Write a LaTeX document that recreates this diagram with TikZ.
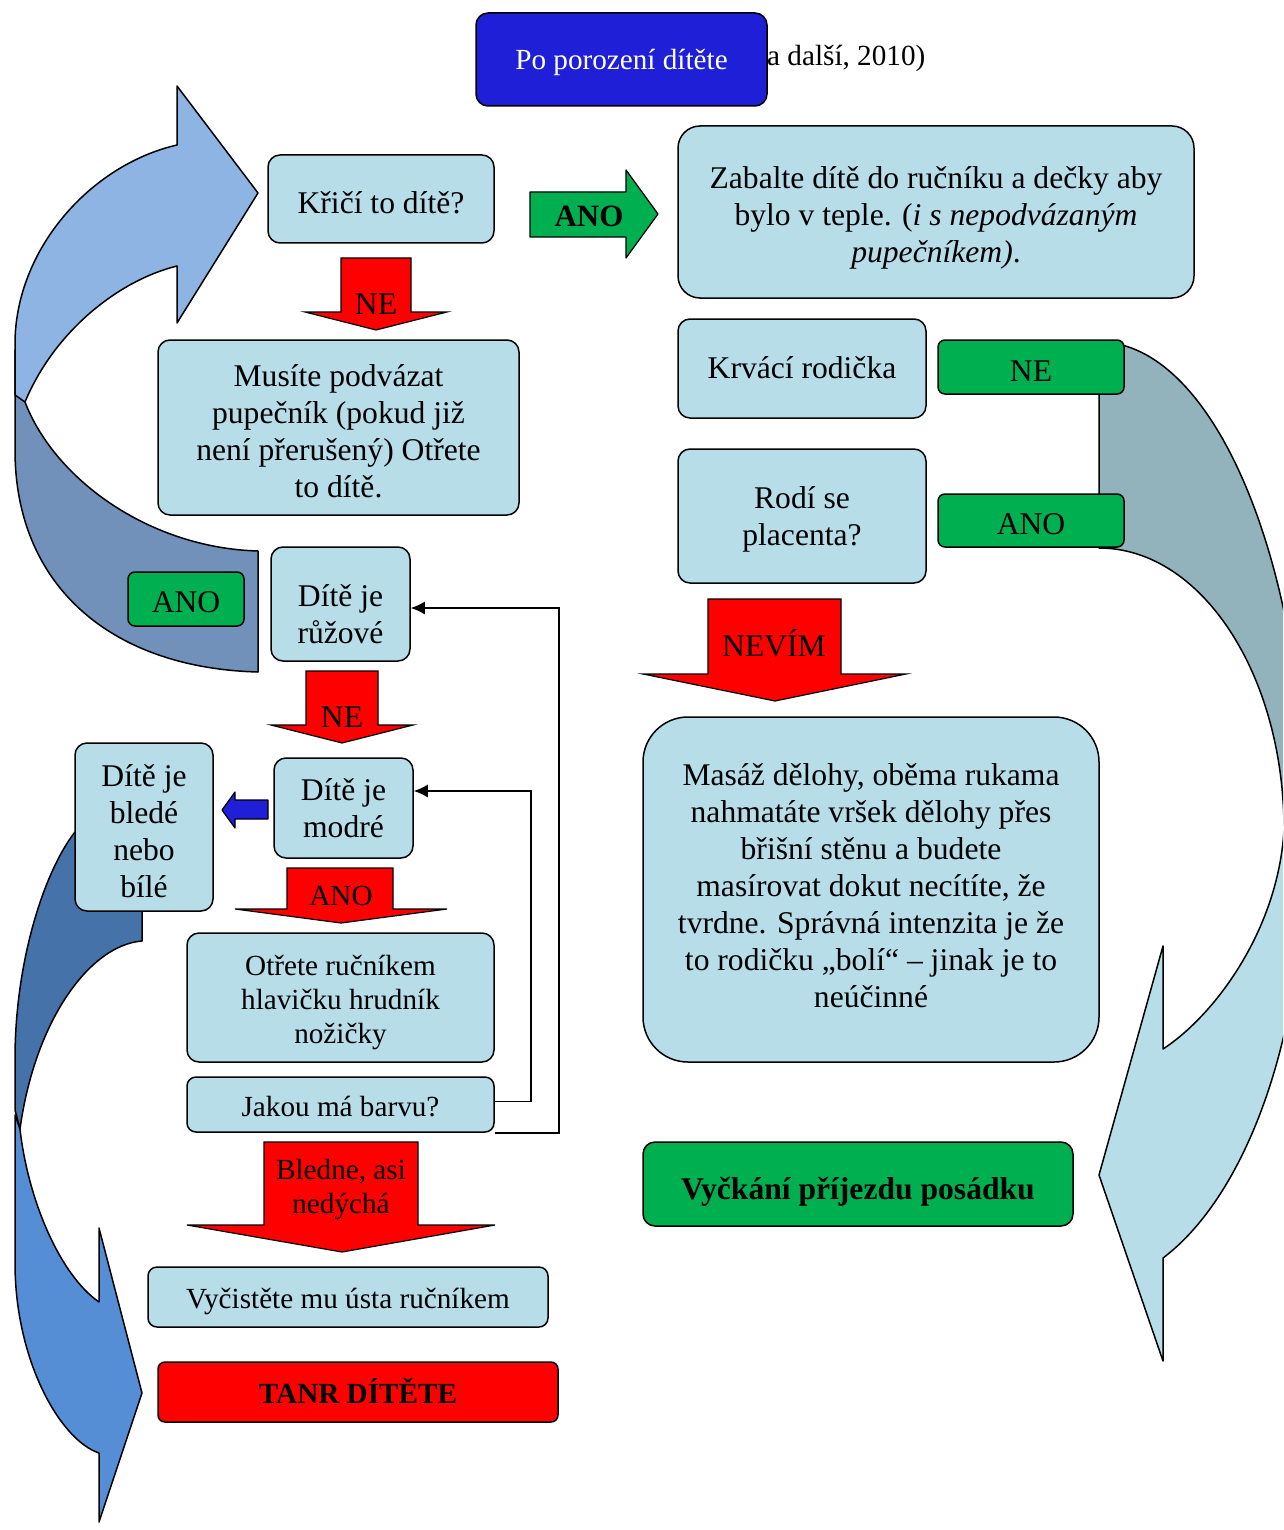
\documentclass[tikz,border=0pt]{standalone}
\usepackage{fontspec}
\setmainfont{Liberation Serif}
\usetikzlibrary{arrows.meta}
\definecolor{boxblue}{HTML}{B7DDE8}
\definecolor{titleblue}{HTML}{1F1FD8}
\definecolor{okgreen}{HTML}{00B050}
\definecolor{alarmred}{HTML}{FF0000}
\definecolor{lightA}{HTML}{8EB4E3}
\definecolor{darkA}{HTML}{7191BA}
\definecolor{lightB}{HTML}{558ED5}
\definecolor{darkB}{HTML}{4672AA}
\definecolor{greyR}{HTML}{93B3BC}
\definecolor{lightR}{HTML}{B7DEE8}
% text lines of a box, lowered by #1 inside it
\newcommand{\boxtext}[2]{\raisebox{-#1}[\height][\depth]{\begin{tabular}{@{}c@{}}#2\end{tabular}}}

\begin{document}
\begin{tikzpicture}[x=1pt,y=-1pt,
  big/.style={font=\fontsize{31.6}{37}\selectfont},
  small/.style={font=\fontsize{29.2}{34}\selectfont},
  box/.style={draw=black,line width=1.5pt,rounded corners=12pt,fill=boxblue,align=center,big},
  greenbox/.style={box,fill=okgreen,rounded corners=7pt},
  redbox/.style={box,fill=alarmred,rounded corners=7pt},
  blockred/.style={draw=black,line width=1.2pt,fill=alarmred},
  arrowline/.style={draw=black,line width=1.5pt,line join=round},
  conn/.style={draw=black,line width=1.5pt,-{Latex[length=14pt,width=13pt]}},
  lbl/.style={align=center,inner sep=0pt}]
\useasboundingbox (0,0) rectangle (1283,1530);

% big curved arrows behind the boxes
\begin{scope}
\clip (0,0) rectangle (1283,1530);
\draw[arrowline,fill=darkA] (15,350) -- (15,450) .. controls (15,585) and (110,668) .. (258,672) -- (258,551) .. controls (150,548) and (55,480) .. (25,402) -- cycle;
\draw[arrowline,fill=lightA] (258,193) -- (177,86) -- (177,145) .. controls (90,165) and (15,250) .. (15,344) -- (15,395) -- (25,402) .. controls (55,330) and (120,280) .. (177,266) -- (177,323) -- cycle;
\draw[arrowline,fill=darkB] (142,830) -- (142,941) .. controls (90,945) and (35,1020) .. (20,1129) -- (15,1110) -- (15,1059) .. controls (15,960) and (45,870) .. (75,832) -- cycle;
\draw[arrowline,fill=lightB] (15,1115) -- (15,1263) .. controls (15,1360) and (60,1440) .. (99,1453) -- (99,1522) -- (142,1393) -- (99,1228) -- (99,1302) .. controls (60,1275) and (28,1200) .. (20,1129) -- cycle;
\draw[arrowline,fill=greyR] (1099,342) .. controls (1213,342) and (1306,561) .. (1306,830) -- (1284,830) .. controls (1284,674) and (1201,548) .. (1099,548) -- cycle;
\draw[arrowline,fill=lightR] (1284,830) -- (1306,830) .. controls (1306,1050) and (1240,1200) .. (1163,1258) -- (1163,1361) -- (1099,1175) -- (1163,946) -- (1163,1049) .. controls (1215,1015) and (1278,930) .. (1284,830) -- cycle;
\end{scope}

% title
\node[small,anchor=west,inner sep=0pt] (zdroj) at (767,58) {a další, 2010)};
\node[box,small,fill=titleblue,text=white,minimum width=291pt,minimum height=93pt] (title) at (621.5,59.5) {\boxtext{3.7pt}{Po porození dítěte}};

% left column
\node[box,minimum width=226pt,minimum height=88pt] (kric) at (381,199) {\boxtext{7.4pt}{Křičí to dítě?}};
\draw[blockred] (341,258) -- (411,258) -- (411,312) -- (447,312) -- (376,330) -- (305,312) -- (341,312) -- cycle;
\node[lbl,big] (ne1) at (376,304) {NE};
\node[box,minimum width=361pt,minimum height=175pt] (musite) at (338.5,427.5) {\boxtext{7.4pt}{Musíte podvázat\\pupečník (pokud již\\není přerušený) Otřete\\to dítě.}};
\node[greenbox,minimum width=116pt,minimum height=54pt] (anol) at (186,599) {\boxtext{6.4pt}{ANO}};
\node[box,minimum width=139pt,minimum height=114pt] (ruzove) at (340.5,604) {\boxtext{13.9pt}{Dítě je\\růžové}};
\draw[blockred] (306,671) -- (378,671) -- (378,725) -- (413,725) -- (342,743) -- (271,725) -- (306,725) -- cycle;
\node[lbl,big] (ne2) at (342,717) {NE};
\node[box,minimum width=138pt,minimum height=168pt] (bile) at (144,827) {\boxtext{7.9pt}{Dítě je\\bledé\\nebo\\bílé}};
\node[box,minimum width=139pt,minimum height=100pt] (modre) at (343.5,808) {\boxtext{3.9pt}{Dítě je\\modré}};
\draw[arrowline,line width=1.2pt,fill=titleblue] (268,800) -- (235,800) -- (235,792) -- (222,810) -- (235,828) -- (235,819) -- (268,819) -- cycle;
\draw[blockred] (287,868) -- (393,868) -- (393,909) -- (447,909) -- (341,923) -- (235,909) -- (287,909) -- cycle;
\node[lbl,small] (ano3) at (341,896) {ANO};
\node[box,small,minimum width=307pt,minimum height=129pt] (otrete) at (340.5,997.5) {\boxtext{4.7pt}{Otřete ručníkem\\hlavičku hrudník\\nožičky}};
\node[box,small,rounded corners=9pt,minimum width=307pt,minimum height=55pt] (jakou) at (340.5,1104.5) {\boxtext{4.7pt}{Jakou má barvu?}};
\draw[conn] ([yshift=3pt]jakou.east) -- ++(36,0) |- ([yshift=17pt]modre.east);
\draw[conn] (jakou.south east) -- ++(64,0) |- ([yshift=-4pt]ruzove.east);
\draw[blockred] (264,1142) -- (418,1142) -- (418,1225) -- (495,1225) -- (342,1252) -- (187,1225) -- (264,1225) -- cycle;
\node[lbl,small] (bledne) at (341,1190) {Bledne, asi\\nedýchá};
\node[box,small,rounded corners=9pt,minimum width=400pt,minimum height=60pt] (vycistete) at (348,1297) {\boxtext{4.2pt}{Vyčistěte mu ústa ručníkem}};
\node[redbox,small,font=\fontsize{29.2}{34}\selectfont\bfseries,minimum width=400pt,minimum height=60pt] (tanr) at (358,1392) {\boxtext{4.2pt}{TANR DÍTĚTE}};

% right column
\draw[arrowline,line width=1.2pt,fill=okgreen] (530,192) -- (626,192) -- (626,170) -- (658,214) -- (626,258) -- (626,237) -- (530,237) -- cycle;
\node[lbl,font=\fontsize{31}{37}\selectfont\bfseries] (ano1) at (589,216) {ANO};
\node[box,rounded corners=22pt,minimum width=516pt,minimum height=172pt] (zabalte) at (936,212) {\boxtext{6.4pt}{Zabalte dítě do ručníku a dečky aby\\bylo v teple. (\textit{i s nepodvázaným}\\\textit{pupečníkem)}.}};
\node[box,minimum width=248pt,minimum height=99pt] (krvaci) at (802,368.5) {\boxtext{2.9pt}{Krvácí rodička}};
\node[greenbox,minimum width=186pt,minimum height=54pt] (ner) at (1031,367) {\boxtext{7.4pt}{NE}};
\node[box,minimum width=248pt,minimum height=134pt] (rodi) at (802,516) {\boxtext{3.9pt}{Rodí se\\placenta?}};
\node[greenbox,minimum width=186pt,minimum height=53pt] (anor) at (1031,520.5) {\boxtext{6.9pt}{ANO}};
\draw[blockred] (708,599) -- (841,599) -- (841,674) -- (906,674) -- (775,701) -- (643,674) -- (708,674) -- cycle;
\node[lbl,big] (nevim) at (774,643) {NEVÍM};
\node[box,rounded corners=45pt,minimum width=456pt,minimum height=345pt] (masaz) at (871,889.5) {\boxtext{0pt}{Masáž dělohy, oběma rukama\\nahmatáte vršek dělohy přes\\břišní stěnu a budete\\masírovat dokut necítíte, že\\tvrdne. Správná intenzita je že\\to rodičku „bolí“ – jinak je to\\neúčinné}};
\node[greenbox,rounded corners=12pt,font=\fontsize{31.6}{37}\selectfont\bfseries,minimum width=430pt,minimum height=84pt] (vyckani) at (858,1184) {\boxtext{8.4pt}{Vyčkání příjezdu posádku}};
\end{tikzpicture}
\end{document}
